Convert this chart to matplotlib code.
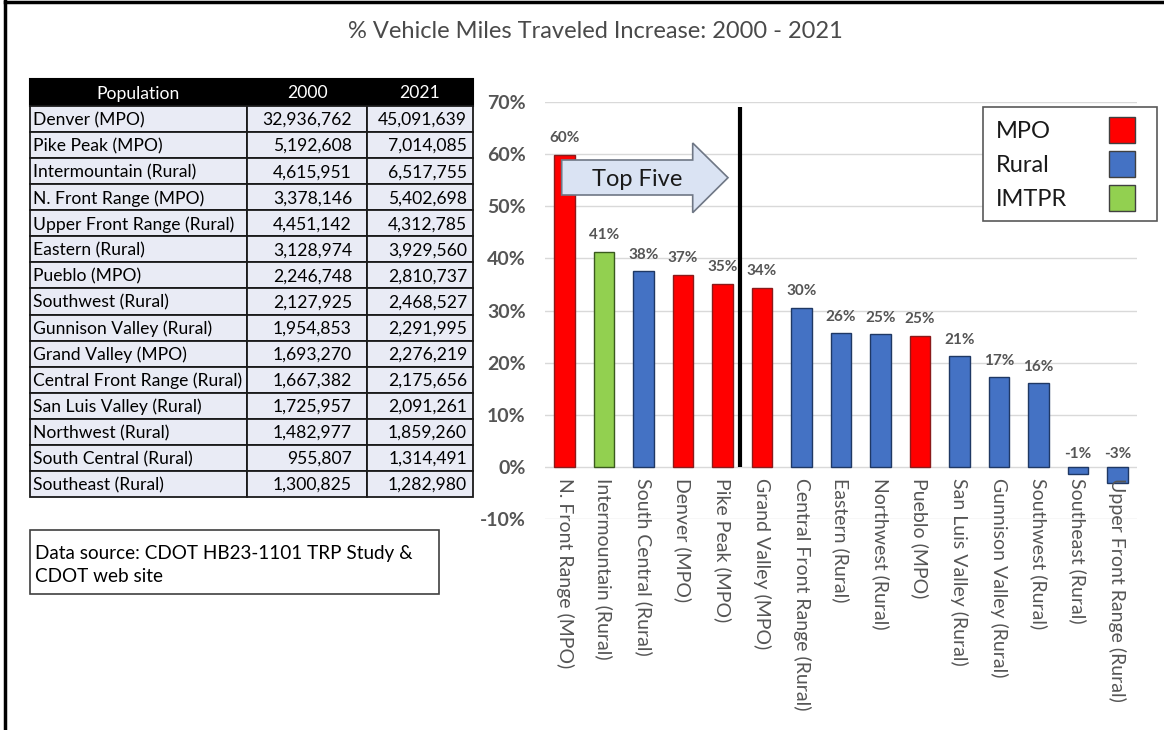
import matplotlib.pyplot as plt
from matplotlib.patches import Rectangle, Polygon
from matplotlib.lines import Line2D

plt.rcParams['font.family'] = ['Lato', 'DejaVu Sans']

# table data
regions = ["Denver (MPO)", "Pike Peak (MPO)", "Intermountain (Rural)", "N. Front Range (MPO)",
           "Upper Front Range (Rural)", "Eastern (Rural)", "Pueblo (MPO)", "Southwest (Rural)",
           "Gunnison Valley (Rural)", "Grand Valley (MPO)", "Central Front Range (Rural)",
           "San Luis Valley (Rural)", "Northwest (Rural)", "South Central (Rural)", "Southeast (Rural)"]
pop2000 = [32936762, 5192608, 4615951, 3378146, 4451142, 3128974, 2246748, 2127925,
           1954853, 1693270, 1667382, 1725957, 1482977, 955807, 1300825]
pop2021 = [45091639, 7014085, 6517755, 5402698, 4312785, 3929560, 2810737, 2468527,
           2291995, 2276219, 2175656, 2091261, 1859260, 1314491, 1282980]

# bar data
cats = ["N. Front Range (MPO)", "Intermountain (Rural)", "South Central (Rural)", "Denver (MPO)",
        "Pike Peak (MPO)", "Grand Valley (MPO)", "Central Front Range (Rural)", "Eastern (Rural)",
        "Northwest (Rural)", "Pueblo (MPO)", "San Luis Valley (Rural)", "Gunnison Valley (Rural)",
        "Southwest (Rural)", "Southeast (Rural)", "Upper Front Range (Rural)"]
pct = [59.9, 41.2, 37.5, 36.9, 35.1, 34.4, 30.5, 25.6, 25.4, 25.1, 21.2, 17.2, 16.0, -1.4, -3.1]
kind = ["MPO", "IMTPR", "Rural", "MPO", "MPO", "MPO", "Rural", "Rural", "Rural", "MPO",
        "Rural", "Rural", "Rural", "Rural", "Rural"]

colors = {"MPO": "#ff0000", "Rural": "#4472c4", "IMTPR": "#92d050"}
edges = {"MPO": "#8b1a1a", "Rural": "#1f3864", "IMTPR": "#3a5a1e"}
gray = "#555555"

W, H = 1164, 730
fig = plt.figure(figsize=(11.64, 7.30), dpi=100)

bg = fig.add_axes([0, 0, 1, 1], zorder=0)
bg.set_xlim(0, W)
bg.set_ylim(H, 0)
bg.axis('off')

# outer frame
bg.add_line(Line2D([5, 5], [0, H], color='black', lw=2.5))
bg.add_line(Line2D([5, 1162], [2, 2], color='black', lw=2.5))

bg.text(595, 31, "% Vehicle Miles Traveled Increase: 2000 - 2021", ha='center', va='center',
        fontsize=17, color='#4a4a4a')

# table
cols = [30, 247, 367, 473]
top, hh, rh = 79, 27, 26.07
fs_tab = 12.6
bg.add_patch(Rectangle((cols[0], top), cols[3] - cols[0], hh, fc='black', ec='black', lw=1.5))
heads = ["Population", "2000", "2021"]
for j, t in enumerate(heads):
    bg.text((cols[j] + cols[j + 1]) / 2, top + hh / 2 + 1, t, ha='center', va='center',
            fontsize=fs_tab, color='white')
for i in range(len(regions)):
    y0 = top + hh + i * rh
    for j in range(3):
        bg.add_patch(Rectangle((cols[j], y0), cols[j + 1] - cols[j], rh, fc='#e9ebf5',
                               ec='#1a1a1a', lw=1.3))
    yc = y0 + rh / 2 + 1
    bg.text(cols[0] + 3, yc, regions[i], ha='left', va='center', fontsize=fs_tab, color='black')
    bg.text(cols[2] - 15, yc, f"{pop2000[i]:,}", ha='right', va='center', fontsize=fs_tab, color='black')
    bg.text(cols[3] - 6, yc, f"{pop2021[i]:,}", ha='right', va='center', fontsize=fs_tab, color='black')

# data source box
bg.add_patch(Rectangle((30, 530), 409, 64, fc='white', ec='#404040', lw=1.2))
bg.text(35, 553, "Data source: CDOT HB23-1101 TRP Study &", ha='left', va='center',
        fontsize=13.6, color='black')
bg.text(35, 576, "CDOT web site", ha='left', va='center', fontsize=13.6, color='black')

# bar chart
ax = fig.add_axes([545 / W, 1 - 519 / H, (1137 - 545) / W, (519 - 102) / H], zorder=1)
ax.patch.set_alpha(0)
x = list(range(len(cats)))
ax.bar(x, pct, width=0.52, color=[colors[k] for k in kind],
       edgecolor=[edges[k] for k in kind], linewidth=1, zorder=2)
ax.set_xlim(-0.5, len(cats) - 0.5)
ax.set_ylim(-10, 70)
ax.set_yticks(range(-10, 71, 10))
ax.set_yticklabels([f"{v}%" for v in range(-10, 71, 10)], fontsize=14, fontweight='bold', color=gray)
ax.tick_params(axis='y', length=0, pad=14)
ax.set_xticks([])
ax.grid(axis='y', color='#d9d9d9', lw=1)
ax.set_axisbelow(True)
for s in ax.spines.values():
    s.set_visible(False)

for i, v in enumerate(pct):
    off = 12 if v > 0 else 9
    ax.annotate(f"{v:.0f}%", (i, max(v, 0)), xytext=(0, off), textcoords='offset points',
                ha='center', va='center', fontsize=11, fontweight='bold', color=gray)
    ax.annotate(cats[i], (i, 0), xytext=(0, -8), textcoords='offset points', rotation=270,
                ha='center', va='top', fontsize=14, color=gray)

ax.vlines(4.44, 0, 69, color='black', lw=3, zorder=3)

# overlay: arrow and legend
fg = fig.add_axes([0, 0, 1, 1], zorder=3)
fg.set_xlim(0, W)
fg.set_ylim(H, 0)
fg.axis('off')
fg.patch.set_alpha(0)

arrow = [(561.7, 160), (692.7, 160), (692.7, 143), (728, 177.7), (692.7, 212.7),
         (692.7, 195), (561.7, 195)]
fg.add_patch(Polygon(arrow, closed=True, fc='#dae3f3', ec='#6f7785', lw=1.2))
fg.text(637, 179, "Top Five", ha='center', va='center', fontsize=17, color='#1a1a1a')

fg.add_patch(Rectangle((982.7, 107), 174, 114, fc='white', ec='#595959', lw=1.2))
for name, yc in zip(["MPO", "Rural", "IMTPR"], [131.7, 165, 199]):
    fg.text(996, yc, name, ha='left', va='center', fontsize=17, color='#1a1a1a')
    fg.add_patch(Rectangle((1109, yc - 14.5), 26, 26, fc=colors[name], ec='#404040', lw=1))

fig.savefig('out.png', dpi=100)
